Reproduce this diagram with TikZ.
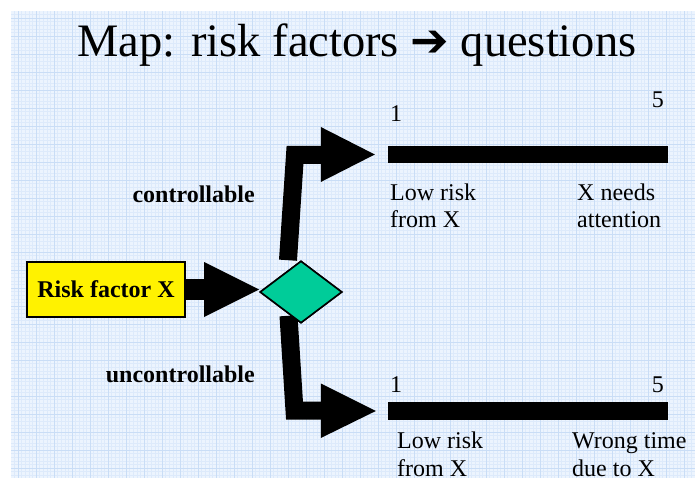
\documentclass[tikz,border=0pt]{standalone}
\usepackage{fontspec}
\setmainfont{Liberation Serif}
\newfontfamily\symfont{DejaVu Sans}
\usetikzlibrary{shapes.geometric}
\definecolor{paper}{HTML}{ECF4FE}
\definecolor{minorline}{HTML}{DDEAFB}
\definecolor{majorline}{HTML}{C9DDF6}
\definecolor{decision}{HTML}{00CC99}
\begin{document}
\begin{tikzpicture}[x=1pt,y=-1pt,
  shaft/.style={draw=black, line width=18pt, line join=miter},
  headfill/.style={fill=black},
  scalebar/.style={fill=black, inner sep=0pt, minimum width=280pt},
  plain/.style={inner sep=0pt, font=\fontsize{24}{28}\selectfont, align=left},
  sidelabel/.style={inner sep=0pt, font=\fontsize{24}{28}\selectfont\bfseries},
  riskbox/.style={draw=black, line width=1.6pt, fill=yellow, inner sep=0pt,
    minimum width=158pt, minimum height=55pt, font=\fontsize{24}{28}\selectfont\bfseries},
  choice/.style={diamond, draw=black, line width=1.6pt, fill=decision, inner sep=0pt,
    minimum width=82pt, minimum height=62pt},
]
\useasboundingbox (0,0) rectangle (695,478);
\fill[white] (0,0) rectangle (695,478);

% squared paper background
\fill[paper] (11,11) rectangle (695,478);
\begin{scope}
  \clip (11,11) rectangle (695,478);
  \draw[minorline, line width=0.5pt, step=3.6pt] (11,11) grid (695,478);
  \draw[majorline, line width=0.6pt, step=18pt] (11,11) grid (695,478);
\end{scope}

% title
\node[inner sep=0pt, anchor=base, font=\fontsize{46.5}{54}\selectfont] (title) at (357,57)
  {Map: risk factors {\symfont\fontsize{46}{46}\selectfont ➔} questions};

% input and decision
\node[riskbox] (risk) at (106,289.5) {Risk factor X};
\node[choice] (dia) at (301,292) {};

% rating scales
\node[scalebar, minimum height=17pt] (topbar) at (528,154.5) {};
\node[scalebar, minimum height=18pt] (lowbar) at (528,411) {};

% connector: risk factor -> decision
\coordinate (rhead) at ([xshift=-55pt]dia.west |- risk.east);
\draw[draw=black, line width=21pt] (risk.east) -- (rhead);
\fill[headfill] ([yshift=27.5pt]rhead) -- (dia.west |- risk.east)
  -- ([yshift=-27.5pt]rhead) -- cycle;

% connector: decision -> controllable scale
\coordinate (ubend) at (295,155);
\coordinate (uend) at (322,155);
\draw[shaft] ([xshift=-13pt]dia.north) -- (ubend) -- (uend);
\fill[headfill] ([xshift=-67pt, yshift=27.5pt]topbar.west) -- ([xshift=-13pt]topbar.west)
  -- ([xshift=-67pt, yshift=-27.5pt]topbar.west) -- cycle;

% connector: decision -> uncontrollable scale
\coordinate (lbend) at (294.5,410.5);
\coordinate (lend) at (322,410.5);
\draw[shaft] ([xshift=-12.5pt, yshift=8pt]dia.south) -- (lbend) -- (lend);
\node[choice] at (dia) {};
\fill[headfill] ([xshift=-67pt, yshift=27.5pt]lowbar.west) -- ([xshift=-12pt]lowbar.west)
  -- ([xshift=-67pt, yshift=-27pt]lowbar.west) -- cycle;

% branch labels
\node[sidelabel, anchor=base east] (ctrl) at (255,203) {controllable};
\node[sidelabel, anchor=base east] (unctrl) at (255,382) {uncontrollable};

% scale end labels (base anchor sits on the last line)
\node[plain, anchor=base west] (t1) at (390,122) {1};
\node[plain, anchor=base east] (t5) at (664,108) {5};
\node[plain, anchor=base west] (tlow) at (390,228) {Low risk\\from X};
\node[plain, anchor=base west] (thigh) at (577,228) {X needs\\attention};
\node[plain, anchor=base west] (l1) at (390,392) {1};
\node[plain, anchor=base east] (l5) at (664,392) {5};
\node[plain, anchor=base west] (llow) at (397,476) {Low risk\\from X};
\node[plain, anchor=base west] (lhigh) at (572,476) {Wrong time\\due to X};
\end{tikzpicture}
\end{document}
